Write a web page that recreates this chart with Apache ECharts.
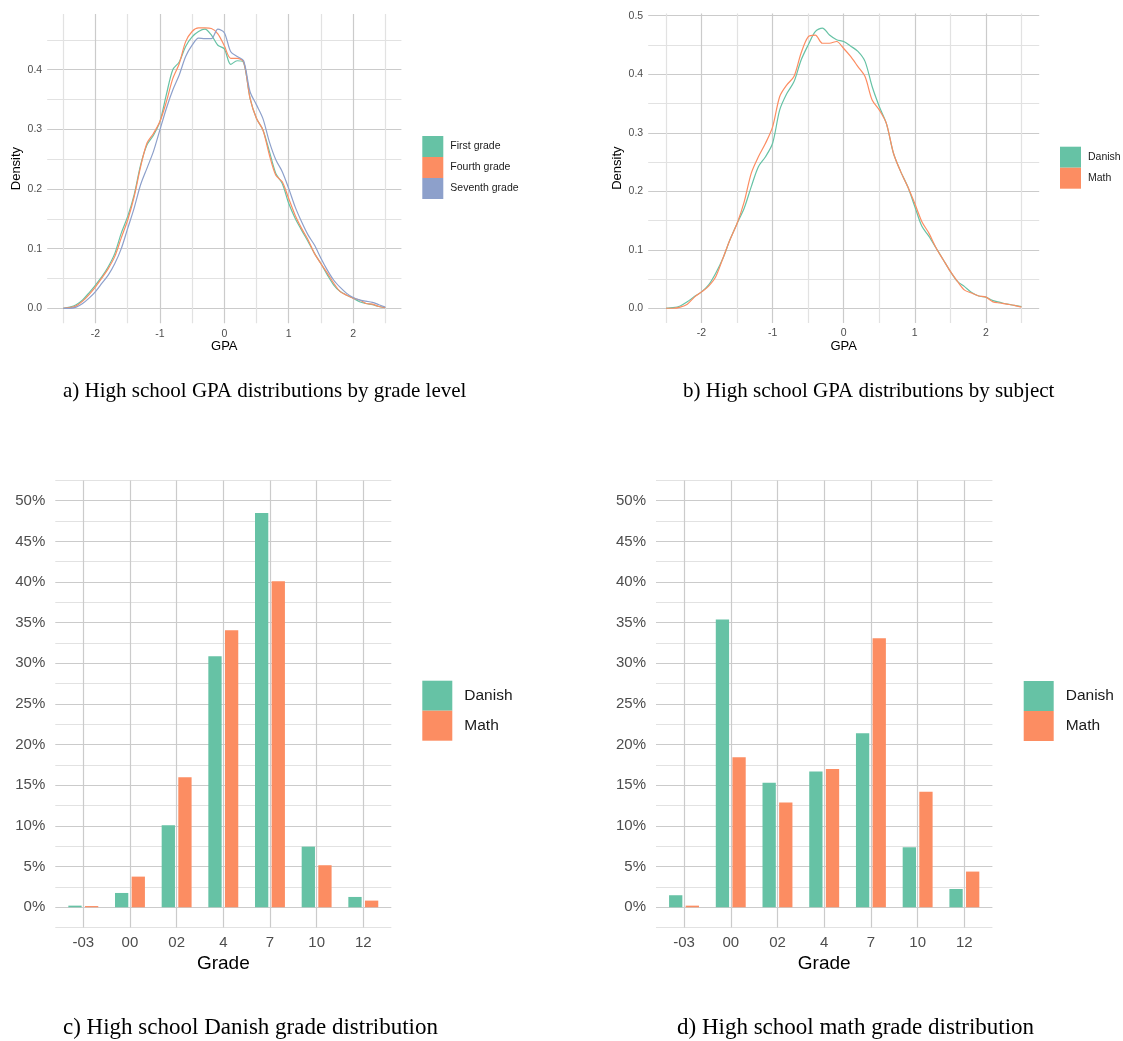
<!DOCTYPE html>
<html>
<head>
<meta charset="utf-8">
<title>High school GPA and grade distributions</title>
<script src="https://cdn.jsdelivr.net/npm/echarts@6/dist/echarts.min.js"></script>
<style>
html, body { margin: 0; padding: 0; background: #fff; }
#main { width: 1123px; height: 1041px; }
</style>
</head>
<body>
<div id="main"></div>
<script>
var gpa = [-2.5, -2.4, -2.3, -2.2, -2.1, -2.0, -1.9, -1.8, -1.7, -1.6,
           -1.5, -1.4, -1.3, -1.2, -1.1, -1.0, -0.9, -0.8, -0.7, -0.6,
           -0.5, -0.4, -0.3, -0.2, -0.1, 0.0, 0.1, 0.2, 0.3, 0.4,
           0.5, 0.6, 0.7, 0.8, 0.9, 1.0, 1.1, 1.2, 1.3, 1.4,
           1.5, 1.6, 1.7, 1.8, 1.9, 2.0, 2.1, 2.2, 2.3, 2.4, 2.5];

// a) density by grade level
var firstGrade = [0, 0.002, 0.006, 0.014, 0.026, 0.039, 0.053, 0.070, 0.092, 0.126,
                  0.154, 0.190, 0.240, 0.274, 0.290, 0.313, 0.358, 0.400, 0.413, 0.439,
                  0.455, 0.464, 0.468, 0.458, 0.441, 0.435, 0.409, 0.415, 0.412, 0.352,
                  0.318, 0.299, 0.263, 0.226, 0.209, 0.176, 0.151, 0.131, 0.112, 0.092,
                  0.075, 0.056, 0.039, 0.028, 0.022, 0.017, 0.011, 0.008, 0.006, 0.003, 0.001];
var fourthGrade = [0, 0.001, 0.004, 0.012, 0.023, 0.036, 0.051, 0.067, 0.087, 0.118,
                   0.148, 0.187, 0.237, 0.277, 0.293, 0.313, 0.346, 0.385, 0.410, 0.447,
                   0.464, 0.470, 0.470, 0.469, 0.460, 0.440, 0.419, 0.419, 0.413, 0.352,
                   0.318, 0.299, 0.257, 0.223, 0.212, 0.184, 0.156, 0.134, 0.115, 0.092,
                   0.075, 0.059, 0.042, 0.028, 0.022, 0.017, 0.014, 0.008, 0.007, 0.003, 0.001];
var seventhGrade = [0, 0.000, 0.002, 0.008, 0.017, 0.028, 0.042, 0.056, 0.075, 0.100,
                    0.134, 0.168, 0.207, 0.235, 0.263, 0.299, 0.335, 0.366, 0.391, 0.422,
                    0.441, 0.453, 0.452, 0.452, 0.468, 0.462, 0.430, 0.422, 0.415, 0.363,
                    0.341, 0.318, 0.279, 0.249, 0.229, 0.201, 0.170, 0.145, 0.123, 0.106,
                    0.084, 0.064, 0.047, 0.035, 0.025, 0.018, 0.014, 0.012, 0.010, 0.006, 0.002];

// b) density by subject
var danishGpa = [0, 0.001, 0.004, 0.011, 0.020, 0.028, 0.040, 0.060, 0.085, 0.117,
                 0.145, 0.171, 0.208, 0.242, 0.259, 0.282, 0.339, 0.367, 0.387, 0.424,
                 0.450, 0.473, 0.479, 0.467, 0.459, 0.456, 0.448, 0.439, 0.422, 0.379,
                 0.345, 0.316, 0.265, 0.234, 0.208, 0.174, 0.140, 0.123, 0.103, 0.083,
                 0.063, 0.046, 0.037, 0.027, 0.021, 0.019, 0.013, 0.010, 0.007, 0.005, 0.003];
var mathGpa = [0, 0.000, 0.002, 0.007, 0.019, 0.028, 0.038, 0.054, 0.085, 0.117,
               0.145, 0.182, 0.231, 0.259, 0.282, 0.310, 0.362, 0.382, 0.396, 0.436,
               0.464, 0.467, 0.453, 0.453, 0.456, 0.444, 0.430, 0.413, 0.396, 0.356,
               0.339, 0.316, 0.265, 0.234, 0.208, 0.179, 0.148, 0.128, 0.103, 0.083,
               0.063, 0.046, 0.031, 0.026, 0.021, 0.019, 0.011, 0.009, 0.007, 0.005, 0.002];

// c) and d) grade shares in percent
var grades = ['-03', '00', '02', '4', '7', '10', '12'];
var danishExamDanish = [0.2, 1.76, 10.09, 30.87, 48.5, 7.46, 1.27];
var danishExamMath = [0.15, 3.77, 16.0, 34.07, 40.1, 5.17, 0.82];
var mathExamDanish = [1.48, 35.4, 15.33, 16.7, 21.4, 7.38, 2.25];
var mathExamMath = [0.2, 18.45, 12.9, 17.0, 33.1, 14.2, 4.39];

var captions = ['a) High school GPA distributions by grade level',
                'b) High school GPA distributions by subject',
                'c) High school Danish grade distribution',
                'd) High school math grade distribution'];

var GREEN = '#66C2A5', ORANGE = '#FC8D62', BLUE = '#8DA0CB';
var NONE = 'rgba(0,0,0,0)', MAJOR = '#cbcbcb', MINOR = '#e2e2e2', TICK = '#4d4d4d';
var SANS = 'Liberation Sans';

function near(v, step) {
    var k = v / step;
    return Math.abs(k - Math.round(k)) < 1e-6;
}

function gpaXAxis(grid) {
    return {
        type: 'value', gridIndex: grid, min: -2.75, max: 2.75, interval: 0.25,
        name: 'GPA', nameLocation: 'middle', nameGap: 17,
        nameTextStyle: {color: '#000', fontSize: 13, fontFamily: SANS},
        axisLine: {show: false}, axisTick: {show: false},
        axisLabel: {
            margin: 5, color: TICK, fontSize: 10.5, fontFamily: SANS,
            formatter: function (v) { return near(v, 1) ? String(Math.round(v)) : ''; }
        },
        splitLine: {show: true, showMaxLine: false, lineStyle: {color: [NONE, MINOR, NONE, MAJOR], width: 1.2}}
    };
}

function densityYAxis(grid, max) {
    return {
        type: 'value', gridIndex: grid, min: -0.025, max: max, interval: 0.025,
        name: 'Density', nameLocation: 'middle', nameGap: 24, nameRotate: 90,
        nameTextStyle: {color: '#000', fontSize: 13, fontFamily: SANS},
        axisLine: {show: false}, axisTick: {show: false},
        axisLabel: {
            margin: 5, color: TICK, fontSize: 10.5, fontFamily: SANS,
            formatter: function (v) { return near(v, 0.1) ? (Math.round(v * 10) / 10).toFixed(1) : ''; }
        },
        splitLine: {show: true, showMaxLine: false, lineStyle: {color: [NONE, MAJOR, NONE, MINOR], width: 1.2}}
    };
}

function gradeXAxis(grid) {
    return {
        type: 'value', gridIndex: grid, min: -0.6, max: 6.6, interval: 0.2,
        name: 'Grade', nameLocation: 'middle', nameGap: 27,
        nameTextStyle: {color: '#000', fontSize: 19, fontFamily: SANS},
        axisLine: {show: false}, axisTick: {show: false},
        axisLabel: {
            margin: 8, color: TICK, fontSize: 15, fontFamily: SANS,
            formatter: function (v) {
                var i = Math.round(v);
                return near(v, 1) && i >= 0 && i < grades.length ? grades[i] : '';
            }
        },
        splitLine: {show: true, lineStyle: {color: [NONE, NONE, NONE, MAJOR, NONE], width: 1.2}}
    };
}

function pctYAxis(grid) {
    return {
        type: 'value', gridIndex: grid, min: -2.5, max: 52.5, interval: 2.5,
        axisLine: {show: false}, axisTick: {show: false},
        axisLabel: {
            margin: 10, color: TICK, fontSize: 15, fontFamily: SANS,
            formatter: function (v) { return near(v, 5) ? Math.round(v) + '%' : ''; }
        },
        splitLine: {show: true, lineStyle: {color: [MINOR, MAJOR], width: 1.2}}
    };
}

function density(name, values, grid, color) {
    return {
        name: name, type: 'line', xAxisIndex: grid, yAxisIndex: grid,
        showSymbol: false, smooth: 0.3,
        lineStyle: {width: 1.2, color: color}, itemStyle: {color: color},
        data: gpa.map(function (x, i) { return [x, values[i]]; })
    };
}

function bars(name, values, grid, color) {
    return {
        name: name, type: 'bar', xAxisIndex: grid, yAxisIndex: grid,
        barWidth: 13.3, barGap: '25%',
        itemStyle: {color: color},
        data: values.map(function (v, i) { return [i, v]; })
    };
}

function legendAt(names, left, top, size, font, pad) {
    return {
        data: names, orient: 'vertical', left: left, top: top, padding: 0,
        itemWidth: size, itemHeight: size, itemGap: 0, icon: 'rect',
        textStyle: {color: '#1a1a1a', fontSize: font, fontFamily: SANS, padding: [0, 0, 0, pad]}
    };
}

function caption(text, x, y, size) {
    return {
        type: 'text', x: x, y: y,
        style: {
            text: text, fill: '#000', font: size + 'px "Liberation Serif"',
            textAlign: 'left', textVerticalAlign: 'middle', align: 'left', verticalAlign: 'middle'
        }
    };
}

var chart = echarts.init(document.getElementById('main'));
var option = {
    animation: false,
    backgroundColor: '#fff',
    grid: [
        {left: 47.2, top: 13.9, width: 354.2, height: 309.3},
        {left: 648.2, top: 13.4, width: 391, height: 309.5},
        {left: 55.3, top: 480.4, width: 336, height: 447.2},
        {left: 656, top: 480.4, width: 336.4, height: 447.2}
    ],
    xAxis: [gpaXAxis(0), gpaXAxis(1), gradeXAxis(2), gradeXAxis(3)],
    yAxis: [densityYAxis(0, 0.4935), densityYAxis(1, 0.504), pctYAxis(2), pctYAxis(3)],
    legend: [
        legendAt(['First grade', 'Fourth grade', 'Seventh grade'], 422.3, 136, 21, 10.5, 2),
        legendAt(['Danish', 'Math'], 1060, 146.7, 21, 10.5, 2),
        legendAt(['Danish', 'Math'], 422.3, 680.7, 30, 15.5, 7),
        legendAt(['Danish', 'Math'], 1023.7, 681, 30, 15.5, 7)
    ],
    graphic: [
        caption(captions[0], 63, 391, 21),
        caption(captions[1], 683, 391, 21),
        caption(captions[2], 63, 1028, 23),
        caption(captions[3], 677, 1028, 23)
    ],
    series: [
        density('First grade', firstGrade, 0, GREEN),
        density('Fourth grade', fourthGrade, 0, ORANGE),
        density('Seventh grade', seventhGrade, 0, BLUE),
        density('Danish', danishGpa, 1, GREEN),
        density('Math', mathGpa, 1, ORANGE),
        bars('Danish', danishExamDanish, 2, GREEN),
        bars('Math', danishExamMath, 2, ORANGE),
        bars('Danish', mathExamDanish, 3, GREEN),
        bars('Math', mathExamMath, 3, ORANGE)
    ]
};
chart.setOption(option);
</script>
</body>
</html>
